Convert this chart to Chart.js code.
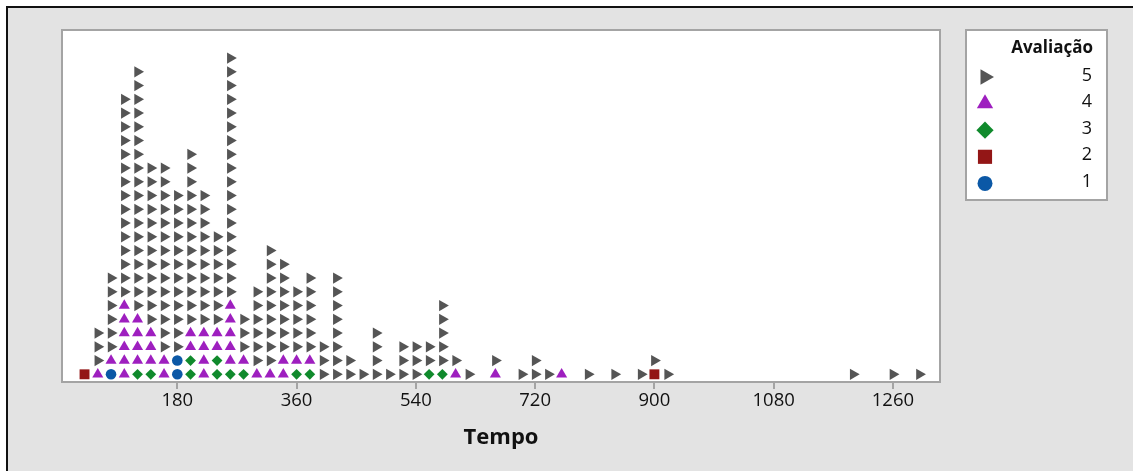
<!DOCTYPE html>
<html>
<head>
<meta charset="utf-8">
<title>Dotplot Tempo</title>
<script src="https://cdn.jsdelivr.net/npm/chart.js@4.4.1/dist/chart.umd.min.js"></script>
<style>
  html, body { margin: 0; padding: 0; background: #fff; }
  #wrap { width: 1133px; height: 471px; }
</style>
</head>
<body>
<div id="wrap"><canvas id="dotCanvas" width="1133" height="471"></canvas></div>
<script>
// Tempo bins (one column of stacked symbols each)
var tempos = [40, 60, 80, 100, 120, 140, 160, 180, 200, 220, 240, 260, 280, 300, 320, 340, 360, 380, 400, 420,
              440, 460, 480, 500, 520, 540, 560, 580, 600, 620, 660, 700, 720, 740, 760, 800, 840, 880, 900, 920,
              1200, 1260, 1300];

// how many of each Avaliação fall in each bin
var aval1 = [0, 0, 1, 0, 0, 0, 0, 2, 0, 0, 0, 0, 0, 0, 0, 0, 0, 0, 0, 0,
             0, 0, 0, 0, 0, 0, 0, 0, 0, 0, 0, 0, 0, 0, 0, 0, 0, 0, 0, 0,
             0, 0, 0];
var aval2 = [1, 0, 0, 0, 0, 0, 0, 0, 0, 0, 0, 0, 0, 0, 0, 0, 0, 0, 0, 0,
             0, 0, 0, 0, 0, 0, 0, 0, 0, 0, 0, 0, 0, 0, 0, 0, 0, 0, 1, 0,
             0, 0, 0];
var aval3 = [0, 0, 0, 0, 1, 1, 0, 0, 2, 0, 2, 1, 1, 0, 0, 0, 1, 1, 0, 0,
             0, 0, 0, 0, 0, 0, 1, 1, 0, 0, 0, 0, 0, 0, 0, 0, 0, 0, 0, 0,
             0, 0, 0];
var aval4 = [0, 1, 1, 6, 4, 3, 2, 0, 2, 4, 2, 5, 1, 1, 1, 2, 1, 1, 0, 0,
             0, 0, 0, 0, 0, 0, 0, 0, 1, 0, 1, 0, 0, 0, 1, 0, 0, 0, 0, 0,
             0, 0, 0];
var aval5 = [0, 3, 6, 15, 18, 12, 14, 12, 13, 10, 7, 18, 3, 6, 9, 7, 5, 6, 3, 8,
             2, 1, 4, 1, 3, 3, 2, 5, 1, 1, 1, 1, 2, 1, 0, 1, 1, 1, 1, 1,
             1, 1, 1];

var tickVals = [180, 360, 540, 720, 900, 1080, 1260];
var avaliacoes = ['1', '2', '3', '4', '5'];

// symbol look per Avaliação (1..5)
var cores = ['#0b58a6', '#931616', '#108a2c', '#9e1fbf', '#555555'];
var estilos = ['circle', 'rect', 'rectRot', 'triangle', 'triangle'];
var rotacoes = [0, 0, 0, 0, 90];
var raios = [5.3, 7, 5.4, 6.4, 6.5];
var raiosLegenda = [7.5, 10, 8.6, 9.4, 9];

function buildPoints() {
    var counts = [aval1, aval2, aval3, aval4, aval5];
    var pts = [[], [], [], [], []];
    for (var i = 0; i < tempos.length; i++) {
        var level = 0;
        for (var g = 0; g < 5; g++) {
            for (var k = 0; k < counts[g][i]; k++) {
                pts[g].push({ x: tempos[i], y: level });
                level++;
            }
        }
    }
    return pts;
}

var frame = {
    id: 'frame',
    beforeDraw: function (chart) {
        var ctx = chart.ctx;
        var a = chart.chartArea;
        ctx.save();
        ctx.fillStyle = '#fff';
        ctx.fillRect(0, 0, chart.width, chart.height);
        ctx.fillStyle = '#e3e3e3';
        ctx.fillRect(7, 7, chart.width - 7, chart.height - 7);
        ctx.fillStyle = '#111';
        ctx.fillRect(6, 6, chart.width - 6, 2);
        ctx.fillRect(6, 6, 2, chart.height - 6);
        ctx.fillStyle = '#fff';
        ctx.fillRect(a.left, a.top, a.right - a.left, a.bottom - a.top);
        ctx.strokeStyle = '#a4a4a4';
        ctx.lineWidth = 2;
        ctx.strokeRect(a.left, a.top, a.right - a.left, a.bottom - a.top);
        ctx.restore();
    }
};

var legenda = {
    id: 'legenda',
    afterDraw: function (chart) {
        var ctx = chart.ctx;
        ctx.save();
        ctx.fillStyle = '#fff';
        ctx.fillRect(966, 30, 141, 170);
        ctx.strokeStyle = '#a4a4a4';
        ctx.lineWidth = 2;
        ctx.strokeRect(966, 30, 141, 170);
        ctx.textAlign = 'right';
        ctx.textBaseline = 'middle';
        ctx.fillStyle = '#111';
        ctx.font = 'bold 17px "Open Sans"';
        ctx.fillText('Avaliação', 1093, 48);
        ctx.font = '18px "Open Sans"';
        for (var i = 0; i < 5; i++) {
            var g = 4 - i;
            var y = 77 + 26.6 * i;
            ctx.fillStyle = cores[g];
            Chart.helpers.drawPoint(ctx, {
                pointStyle: estilos[g],
                rotation: rotacoes[g],
                radius: raiosLegenda[g],
                borderWidth: 0
            }, 985, y);
            ctx.fillStyle = '#111';
            ctx.fillText(avaliacoes[g], 1092, y - 1.5);
        }
        ctx.restore();
    }
};

var pts = buildPoints();
var datasets = [];
for (var g = 4; g >= 0; g--) {
    datasets.push({
        label: avaliacoes[g],
        data: pts[g],
        pointStyle: estilos[g],
        pointRotation: rotacoes[g],
        pointRadius: raios[g],
        pointHoverRadius: raios[g],
        pointBorderWidth: 0,
        pointBackgroundColor: cores[g],
        pointBorderColor: cores[g]
    });
}

new Chart(document.getElementById('dotCanvas'), {
    type: 'scatter',
    data: { datasets: datasets },
    plugins: [frame, legenda],
    options: {
        responsive: false,
        animation: false,
        events: [],
        layout: { padding: { left: 62, right: 193, top: 30, bottom: 0 } },
        plugins: {
            legend: { display: false },
            tooltip: { enabled: false }
        },
        scales: {
            x: {
                type: 'linear',
                position: 'bottom',
                min: 6,
                max: 1331,
                afterBuildTicks: function (s) {
                    s.ticks = tickVals.map(function (v) { return { value: v }; });
                },
                afterFit: function (s) { s.height = 89; },
                grid: { drawOnChartArea: false, drawTicks: true, tickLength: 7, color: '#a4a4a4', lineWidth: 2 },
                border: { display: true, color: '#a4a4a4', width: 2 },
                ticks: {
                    autoSkip: false,
                    maxRotation: 0,
                    padding: 1,
                    color: '#111',
                    font: { family: 'Open Sans', size: 18.5 },
                    callback: function (v) { return String(v); }
                },
                title: {
                    display: true,
                    text: 'Tempo',
                    color: '#111',
                    font: { family: 'Open Sans', size: 22, weight: 'bold' },
                    padding: { top: 0, bottom: 20 }
                }
            },
            y: {
                display: false,
                min: -0.56,
                max: 25.04
            }
        }
    }
});
</script>
</body>
</html>
